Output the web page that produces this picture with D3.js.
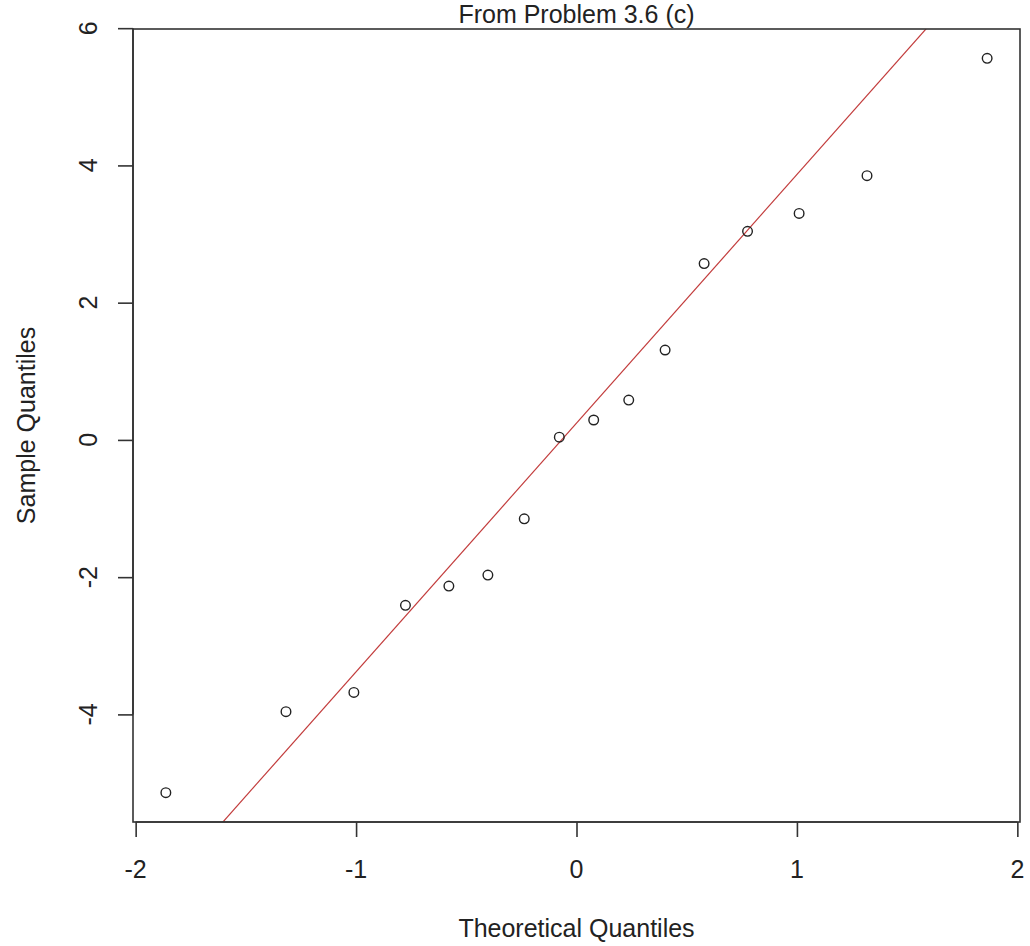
<!DOCTYPE html>
<html>
<head>
<meta charset="utf-8">
<script src="https://cdn.jsdelivr.net/npm/d3@7"></script>
<style>
  body { margin: 0; background: #fff; }
  svg { display: block; font-family: "Liberation Sans", Arial, sans-serif; }
  text { fill: #222; }
</style>
</head>
<body>
<svg id="chart"></svg>
<script>
var width = 1030;
var height = 946;

// theoretical quantiles (normal scores for n = 16)
var theoretical = [-1.863, -1.318, -1.010, -0.776, -0.579, -0.402, -0.237, -0.078,
                   0.078, 0.237, 0.402, 0.579, 0.776, 1.010, 1.318, 1.863];
// sample quantiles
var sample = [-5.14, -3.96, -3.68, -2.41, -2.13, -1.97, -1.15, 0.04,
              0.29, 0.58, 1.31, 2.57, 3.04, 3.30, 3.85, 5.56];

var xTicks = [-2, -1, 0, 1, 2];
var yTicks = [-4, -2, 0, 2, 4, 6];

var title = "From Problem 3.6 (c)";
var xLabel = "Theoretical Quantiles";
var yLabel = "Sample Quantiles";

// plot box in pixels
var box = { left: 133, right: 1020, top: 29, bottom: 822 };

var svg = d3.select("#chart")
    .attr("width", width)
    .attr("height", height);

// R style 4% padding around the data range
function padded(arr) {
    var ext = d3.extent(arr);
    var pad = (ext[1] - ext[0]) * 0.04;
    return [ext[0] - pad, ext[1] + pad];
}

var x = d3.scaleLinear().domain(padded(theoretical)).range([box.left, box.right]);
var y = d3.scaleLinear().domain(padded(sample)).range([box.bottom, box.top]);

var fmt = d => d < 0 ? "-" + Math.abs(d) : "" + d;

// qqline through the quartiles
var sorted = sample.slice().sort(d3.ascending);
var q1 = d3.quantileSorted(sorted, 0.25), q3 = d3.quantileSorted(sorted, 0.75);
var z = 0.6744898;
var slope = (q3 - q1) / (2 * z);
var intercept = q1 + slope * z;

svg.append("defs").append("clipPath").attr("id", "clip")
    .append("rect")
    .attr("x", box.left).attr("y", box.top)
    .attr("width", box.right - box.left).attr("height", box.bottom - box.top);

var xd = x.domain();
svg.append("line")
    .attr("clip-path", "url(#clip)")
    .attr("x1", x(xd[0])).attr("y1", y(intercept + slope * xd[0]))
    .attr("x2", x(xd[1])).attr("y2", y(intercept + slope * xd[1]))
    .attr("stroke", "#c23b3b")
    .attr("stroke-width", 1.2);

// points
svg.selectAll("circle.pt")
    .data(theoretical)
    .enter()
    .append("circle")
        .attr("class", "pt")
        .attr("cx", d => x(d))
        .attr("cy", (d, i) => y(sample[i]))
        .attr("r", 4.8)
        .attr("fill", "none")
        .attr("stroke", "#222")
        .attr("stroke-width", 1.4);

// box
svg.append("rect")
    .attr("x", box.left).attr("y", box.top)
    .attr("width", box.right - box.left).attr("height", box.bottom - box.top)
    .attr("fill", "none")
    .attr("stroke", "#333")
    .attr("stroke-width", 1.6);

// x axis (tick marks from d3, labels placed below)
var xAxis = d3.axisBottom(x).tickValues(xTicks).tickSize(15).tickFormat("");
svg.append("g")
    .attr("transform", "translate(0," + box.bottom + ")")
    .call(xAxis)
    .call(g => g.select(".domain")
        .attr("d", "M" + x(xTicks[0]) + ",0H" + x(xTicks[xTicks.length - 1]))
        .attr("stroke", "#333").attr("stroke-width", 1.6))
    .call(g => g.selectAll(".tick line").attr("stroke", "#333").attr("stroke-width", 1.6));

svg.selectAll("text.xtick")
    .data(xTicks)
    .enter()
    .append("text")
        .attr("class", "xtick")
        .attr("x", d => x(d))
        .attr("y", 878)
        .attr("text-anchor", "middle")
        .attr("font-size", 25)
        .text(fmt);

// y axis, labels rotated like R's las = 0
var yAxis = d3.axisLeft(y).tickValues(yTicks).tickSize(15).tickFormat("");
svg.append("g")
    .attr("transform", "translate(" + box.left + ",0)")
    .call(yAxis)
    .call(g => g.select(".domain")
        .attr("d", "M0," + y(yTicks[0]) + "V" + y(yTicks[yTicks.length - 1]))
        .attr("stroke", "#333").attr("stroke-width", 1.6))
    .call(g => g.selectAll(".tick line").attr("stroke", "#333").attr("stroke-width", 1.6));

svg.selectAll("text.ytick")
    .data(yTicks)
    .enter()
    .append("text")
        .attr("class", "ytick")
        .attr("transform", d => "translate(97," + y(d) + ") rotate(-90)")
        .attr("text-anchor", "middle")
        .attr("font-size", 25)
        .text(fmt);

// titles
svg.append("text")
    .attr("x", (box.left + box.right) / 2)
    .attr("y", 23)
    .attr("text-anchor", "middle")
    .attr("font-size", 25)
    .text(title);

svg.append("text")
    .attr("x", (box.left + box.right) / 2)
    .attr("y", 937)
    .attr("text-anchor", "middle")
    .attr("font-size", 25)
    .text(xLabel);

svg.append("text")
    .attr("transform", "translate(35," + (box.top + box.bottom) / 2 + ") rotate(-90)")
    .attr("text-anchor", "middle")
    .attr("font-size", 25)
    .text(yLabel);
</script>
</body>
</html>
